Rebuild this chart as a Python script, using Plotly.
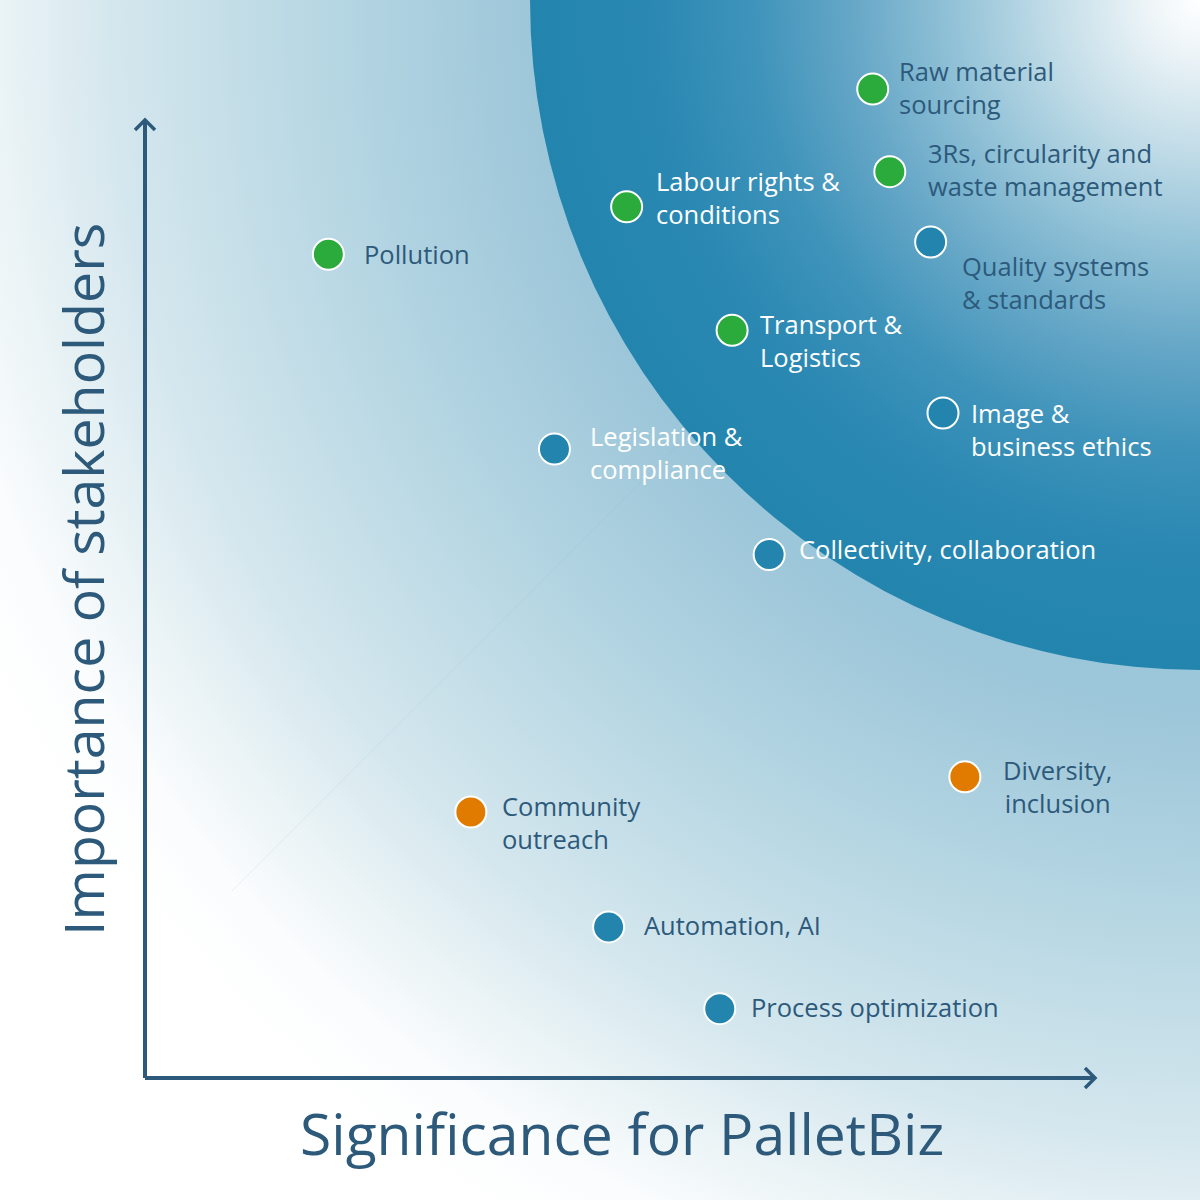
import base64
import plotly.graph_objects as go

# ---------------- data ----------------
topics = [
    "Raw material<br>sourcing",
    "3Rs, circularity and<br>waste management",
    "Labour rights &<br>conditions",
    "Pollution",
    "Quality systems<br>& standards",
    "Transport &<br>Logistics",
    "Image &<br>business ethics",
    "Legislation &<br>compliance",
    "Collectivity, collaboration",
    "Diversity,<br>inclusion",
    "Community<br>outreach",
    "Automation, AI",
    "Process optimization",
]
significance = [7.66, 7.84, 5.07, 1.93, 8.27, 6.18, 8.40, 4.31, 6.57, 8.63, 3.43, 4.88, 6.05]
importance = [10.41, 9.54, 9.17, 8.67, 8.80, 7.87, 7.00, 6.62, 5.51, 3.17, 2.80, 1.59, 0.73]
group = ["env", "env", "env", "env", "gov", "env", "gov", "gov", "gov", "soc", "soc", "gov", "gov"]

x_title = "Significance for PalletBiz"
y_title = "Importance of stakeholders"

# ---------------- styles ----------------
GROUP_COLORS = {"env": "#2bab3b", "gov": "#2385ae", "soc": "#e07b00"}
DARK = "#2d5a7b"
# label style: (xshift px, yshift px, colour, align)
label_style = [
    (26, 2, DARK, "left"),
    (38, 2, DARK, "left"),
    (29, 9, "white", "left"),
    (36, 0, DARK, "left"),
    (31, -40, DARK, "left"),
    (28, -10, "white", "left"),
    (28, -16, "white", "left"),
    (36, -3, "white", "left"),
    (30, 6, "white", "left"),
    (38, -10, DARK, "center"),
    (31, -10, DARK, "left"),
    (35, 2, DARK, "left"),
    (31, 2, DARK, "left"),
]

W = H = 1200
PX = 95.0          # pixels per data unit
X0, Y0 = 145, 1078  # pixel origin of the axes

# ---------------- background (SVG gradients) ----------------
svg = f"""<svg xmlns='http://www.w3.org/2000/svg' width='{W}' height='{H}' viewBox='0 0 {W} {H}'>
<defs>
<radialGradient id='outer' gradientUnits='userSpaceOnUse' cx='1230' cy='20' r='1400'>
<stop offset='0' stop-color='#9cc6d9'/>
<stop offset='0.49' stop-color='#9cc6d9'/>
<stop offset='0.66' stop-color='#b9d8e4'/>
<stop offset='0.80' stop-color='#d5e7ee'/>
<stop offset='0.87' stop-color='#e8f2f5'/>
<stop offset='0.94' stop-color='#fafcfd'/>
<stop offset='1' stop-color='#ffffff'/>
</radialGradient>
<radialGradient id='inner' gradientUnits='userSpaceOnUse' cx='1200' cy='0' r='670'>
<stop offset='0' stop-color='#ffffff'/>
<stop offset='0.075' stop-color='#eef5f8'/>
<stop offset='0.22' stop-color='#c3dde8'/>
<stop offset='0.37' stop-color='#92c2d7'/>
<stop offset='0.52' stop-color='#66a7c7'/>
<stop offset='0.67' stop-color='#3e93ba'/>
<stop offset='0.82' stop-color='#2a88b2'/>
<stop offset='1' stop-color='#2385ae'/>
</radialGradient>
</defs>
<rect x='0' y='0' width='{W}' height='{H}' fill='url(#outer)'/>
<line x1='232' y1='891' x2='700' y2='423' stroke='#7fb0c6' stroke-opacity='0.15' stroke-width='1'/>
<circle cx='1200' cy='0' r='670' fill='url(#inner)'/>
</svg>"""
bg_src = "data:image/svg+xml;base64," + base64.b64encode(svg.encode()).decode()

fig = go.Figure()

fig.add_trace(go.Scatter(
    x=significance, y=importance, mode="markers",
    marker=dict(size=31, color=[GROUP_COLORS[g] for g in group],
                line=dict(color="white", width=2)),
    hoverinfo="skip", showlegend=False,
))

annotations = []
for t, xv, yv, st in zip(topics, significance, importance, label_style):
    dx, dy, col, al = st
    annotations.append(dict(
        x=xv, y=yv, xref="x", yref="y", text=t, showarrow=False,
        xanchor="left", yanchor="middle", xshift=dx - 2, yshift=dy, align=al,
        font=dict(family="Open Sans", size=25.5, color=col),
    ))

annotations.append(dict(
    x=622 / W, y=1 - 1133 / H, xref="paper", yref="paper", text=x_title,
    showarrow=False, xanchor="center", yanchor="middle",
    font=dict(family="Open Sans", size=57, color=DARK),
))
annotations.append(dict(
    x=82 / W, y=1 - 580 / H, xref="paper", yref="paper", text=y_title,
    showarrow=False, xanchor="center", yanchor="middle", textangle=-90,
    font=dict(family="Open Sans", size=55.5, color=DARK),
))

# axis arrows (data coordinates)
x_end = (1095 - X0) / PX
y_end = (Y0 - 120) / PX
a = 10 / PX
line = dict(color=DARK, width=4)
shapes = [
    dict(type="line", xref="x", yref="y", x0=0, y0=0, x1=x_end, y1=0, line=line),
    dict(type="line", xref="x", yref="y", x0=0, y0=0, x1=0, y1=y_end, line=line),
    dict(type="path", xref="x", yref="y",
         path=f"M {x_end - a},{a} L {x_end},0 L {x_end - a},{-a}", line=dict(color=DARK, width=3.5)),
    dict(type="path", xref="x", yref="y",
         path=f"M {-a},{y_end - a} L 0,{y_end} L {a},{y_end - a}", line=dict(color=DARK, width=3.5)),
]

fig.update_layout(
    width=W, height=H, margin=dict(l=0, r=0, t=0, b=0),
    paper_bgcolor="white", plot_bgcolor="rgba(0,0,0,0)",
    xaxis=dict(range=[-X0 / PX, (W - X0) / PX], visible=False, fixedrange=True),
    yaxis=dict(range=[(Y0 - H) / PX, Y0 / PX], visible=False, fixedrange=True),
    images=[dict(source=bg_src, xref="paper", yref="paper", x=0, y=1,
                 sizex=1, sizey=1, sizing="stretch", layer="below",
                 xanchor="left", yanchor="top")],
    annotations=annotations, shapes=shapes, showlegend=False,
)

fig.write_html(
    "out.html",
    config={"displayModeBar": False},
    post_script="document.body.style.margin='0';document.body.style.overflow='hidden';",
)
